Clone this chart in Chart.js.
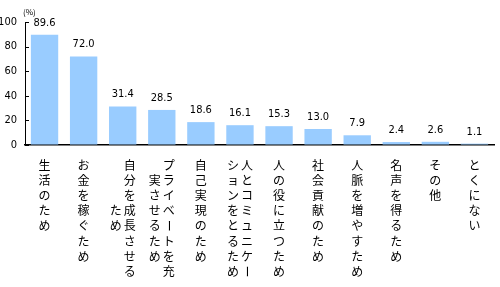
<!DOCTYPE html>
<html>
<head>
    <meta charset="utf-8">
    <title>理由</title>
    <style>
        body, html {
            margin: 0;
            padding: 0;
            background: #fff;
        }
        #wrap {
            width: 500px;
            height: 287px;
        }
    </style>
</head>
<body>
    <div id="wrap"><canvas id="chart" width="500" height="287"></canvas></div>

    <script src="https://cdn.jsdelivr.net/npm/chart.js"></script>
    <script>
        // categories, each split into its vertical columns (right column first)
        let labels = [
            ['生活のため'],
            ['お金を稼ぐため'],
            ['自分を成長させる', 'ため'],
            ['プライベートを充', '実させるため'],
            ['自己実現のため'],
            ['人とコミュニケー', 'ションをとるため'],
            ['人の役に立つため'],
            ['社会貢献のため'],
            ['人脈を増やすため'],
            ['名声を得るため'],
            ['その他'],
            ['とくにない']
        ];
        let values = [89.6, 72.0, 31.4, 28.5, 18.6, 16.1, 15.3, 13.0, 7.9, 2.4, 2.6, 1.1];
        let yTicks = [0, 20, 40, 60, 80, 100];
        let unitLabel = '(%)';

        let numFont = '"DejaVu Sans Condensed", "Liberation Sans Narrow", Arial, sans-serif';
        let jpFont = '"Noto Sans CJK JP", sans-serif';

        // value labels, unit, inward ticks and vertical category text
        let extras = {
            id: 'extras',
            afterDatasetsDraw(chart) {
                let ctx = chart.ctx;
                let xs = chart.scales.x;
                let ys = chart.scales.y;
                let meta = chart.getDatasetMeta(0);
                ctx.save();
                ctx.fillStyle = '#000';

                // values above bars
                ctx.font = '11px ' + numFont;
                ctx.textAlign = 'center';
                ctx.textBaseline = 'middle';
                meta.data.forEach((bar, i) => {
                    ctx.fillText(values[i].toFixed(1), bar.x, bar.y - 12);
                });

                // unit
                ctx.font = '8px ' + jpFont;
                ctx.textAlign = 'left';
                ctx.fillText(unitLabel, xs.left - 2, 12);

                // short ticks pointing into the plot
                ctx.strokeStyle = '#000';
                ctx.lineWidth = 1;
                ctx.beginPath();
                yTicks.forEach(v => {
                    let y = Math.round(ys.getPixelForValue(v)) + 0.5;
                    ctx.moveTo(xs.left, y);
                    ctx.lineTo(xs.left + 4, y);
                });
                ctx.stroke();

                // vertical category labels
                ctx.font = '12px ' + jpFont;
                ctx.textAlign = 'center';
                let top = 165, step = 15.2, colGap = 14;
                labels.forEach((cols, i) => {
                    let cx = xs.getPixelForValue(i);
                    let n = cols.length;
                    let maxLen = Math.max(...cols.map(c => c.length));
                    cols.forEach((col, j) => {
                        let x = cx + ((n - 1) / 2 - j) * colGap;
                        let off = Math.floor((maxLen - col.length) / 2);
                        Array.from(col).forEach((ch, k) => {
                            let y = top + (off + k) * step;
                            if (ch === 'ー') {
                                ctx.save();
                                ctx.translate(x, y);
                                ctx.rotate(Math.PI / 2);
                                ctx.fillText(ch, 0, 0);
                                ctx.restore();
                            } else {
                                ctx.fillText(ch, x, y);
                            }
                        });
                    });
                });
                ctx.restore();
            }
        };

        new Chart(document.getElementById('chart'), {
            type: 'bar',
            data: {
                labels: labels,
                datasets: [{
                    data: values,
                    backgroundColor: '#99ccff',
                    borderWidth: 0,
                    barPercentage: 0.7,
                    categoryPercentage: 1
                }]
            },
            options: {
                responsive: false,
                animation: false,
                layout: {
                    padding: { top: 22, right: 6, bottom: 142, left: 0 }
                },
                plugins: {
                    legend: { display: false },
                    tooltip: { enabled: false }
                },
                scales: {
                    x: {
                        afterFit(scale) {
                            scale.height = 0;
                        },
                        ticks: { display: false },
                        grid: { display: false },
                        border: { display: true, color: '#000', width: 1.5 }
                    },
                    y: {
                        min: 0,
                        max: 100,
                        afterBuildTicks(scale) {
                            scale.ticks = yTicks.map(v => ({ value: v }));
                        },
                        afterFit(scale) {
                            scale.width = 25;
                        },
                        ticks: {
                            color: '#000',
                            padding: 8,
                            font: { family: numFont, size: 11 }
                        },
                        grid: { drawOnChartArea: false, drawTicks: false },
                        border: { display: true, color: '#000', width: 1 }
                    }
                }
            },
            plugins: [extras]
        });
    </script>
</body>
</html>
